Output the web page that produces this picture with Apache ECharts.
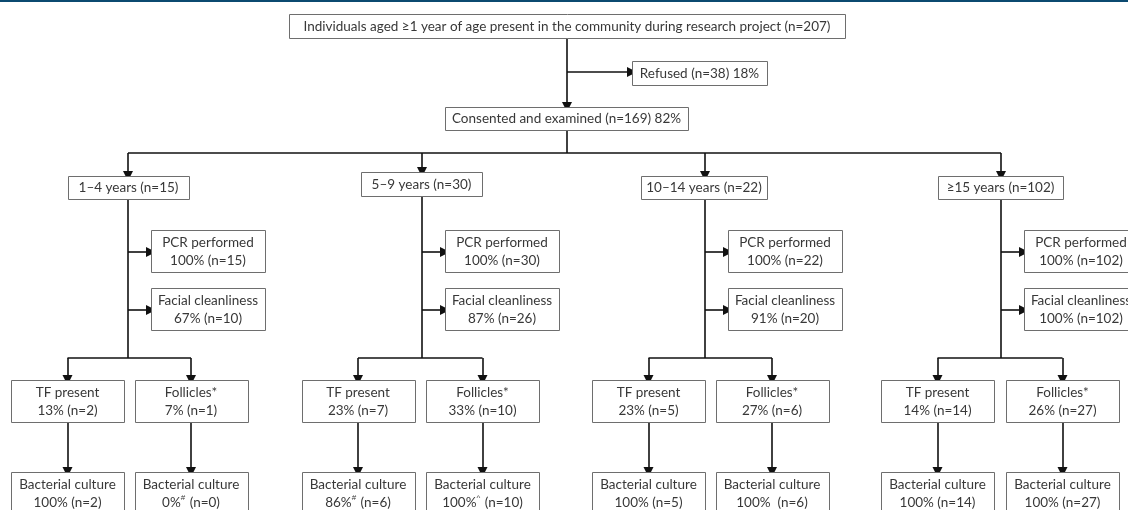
<!DOCTYPE html>
<html>
<head>
<meta charset="utf-8">
<script src="https://cdn.jsdelivr.net/npm/echarts@6/dist/echarts.min.js"></script>
<style>
  html, body { margin: 0; padding: 0; background: #fff; }
  #main { width: 1128px; height: 510px; }
</style>
</head>
<body>
<div id="main"></div>
<script>
// chart data
var totalN = 207
var refusedN = 38, refusedPct = 18
var consentedN = 169, consentedPct = 82
var ageGroups = ['1–4', '5–9', '10–14', '≥15']
var ageN = [15, 30, 22, 102]
var pcrPct = [100, 100, 100, 100]
var pcrN = [15, 30, 22, 102]
var facialPct = [67, 87, 91, 100]
var facialN = [10, 26, 20, 102]
var tfPct = [13, 23, 23, 14]
var tfN = [2, 7, 5, 14]
var follPct = [7, 33, 27, 26]
var follN = [1, 10, 6, 27]
var tfCultPct = [100, 86, 100, 100]
var tfCultN = [2, 6, 5, 14]
var tfCultMark = ['', '#', '', '']
var follCultPct = [0, 100, 100, 100]
var follCultN = [0, 10, 6, 27]
var follCultMark = ['#', '^', '', '']

// layout (pixel space of the hidden axes)
var colX = [128, 422, 705, 1001]
var ageBox = [[68, 176, 189, 199], [361, 172, 482, 196], [641, 176, 767, 199], [938, 176, 1063, 199]]
var tfCx = [67.5, 358, 648.5, 937.5]
var follCx = [191, 482.5, 772, 1062.5]
var leafW = 113
var busY = 153, splitY = 358

var boxes = []   // [x0, y0, x1, y1, textIndex]
var texts = []
function addBox(x0, y0, x1, y1, t) {
  texts.push(t)
  boxes.push([x0, y0, x1, y1, texts.length - 1])
}
var arrows = []
var segs = []

addBox(289, 14, 845, 38, 'Individuals aged ≥1 year of age present in the community during research project (n=' + totalN + ')')
addBox(632, 61, 767, 85, 'Refused (n=' + refusedN + ') ' + refusedPct + '%')
addBox(445, 107, 688, 130, 'Consented and examined (n=' + consentedN + ') ' + consentedPct + '%')
arrows.push([[567, 38], [567, 107]])
arrows.push([[567, 72], [632, 72]])
segs.push([[567, 130], [567, busY]])
segs.push([[colX[0], busY], [colX[3], busY]])

function cult(p, m, n, i) {
  var gap = (i === 2) ? '  ' : ' '
  return 'Bacterial culture\n' + p + '%' + (m ? '{sup|' + m + '}' : '') + gap + '(n=' + n + ')'
}

for (var i = 0; i < 4; i++) {
  var cx = colX[i], ab = ageBox[i]
  addBox(ab[0], ab[1], ab[2], ab[3], ageGroups[i] + ' years (n=' + ageN[i] + ')')
  arrows.push([[cx, busY], [cx, ab[1]]])
  segs.push([[cx, ab[3]], [cx, splitY]])
  addBox(cx + 23, 230, cx + 137, 272, 'PCR performed\n' + pcrPct[i] + '% (n=' + pcrN[i] + ')')
  addBox(cx + 23, 288, cx + 137, 330, 'Facial cleanliness\n' + facialPct[i] + '% (n=' + facialN[i] + ')')
  arrows.push([[cx, 252], [cx + 23, 252]])
  arrows.push([[cx, 310], [cx + 23, 310]])
  segs.push([[tfCx[i], splitY], [follCx[i], splitY]])
  arrows.push([[tfCx[i], splitY], [tfCx[i], 380]])
  arrows.push([[follCx[i], splitY], [follCx[i], 380]])
  addBox(tfCx[i] - leafW / 2, 380, tfCx[i] + leafW / 2, 422, 'TF present\n' + tfPct[i] + '% (n=' + tfN[i] + ')')
  addBox(follCx[i] - leafW / 2, 380, follCx[i] + leafW / 2, 422, 'Follicles*\n' + follPct[i] + '% (n=' + follN[i] + ')')
  arrows.push([[tfCx[i], 422], [tfCx[i], 472]])
  arrows.push([[follCx[i], 422], [follCx[i], 472]])
  addBox(tfCx[i] - leafW / 2, 472, tfCx[i] + leafW / 2, 514, cult(tfCultPct[i], tfCultMark[i], tfCultN[i], -1))
  addBox(follCx[i] - leafW / 2, 472, follCx[i] + leafW / 2, 514, cult(follCultPct[i], follCultMark[i], follCultN[i], i))
}

var chart = echarts.init(document.getElementById('main'))
var font = '"Lato", "Open Sans", sans-serif'

chart.setOption({
  animation: false,
  graphic: [{
    type: 'rect', left: 0, top: 0,
    shape: { width: 1128, height: 2 },
    style: { fill: '#0b4a70' }
  }],
  grid: { left: 0, right: 0, top: 0, bottom: 0 },
  xAxis: { type: 'value', min: 0, max: 1128, show: false },
  yAxis: { type: 'value', min: 0, max: 510, inverse: true, show: false },
  series: [
    {
      type: 'lines',
      coordinateSystem: 'cartesian2d',
      symbol: ['none', 'none'],
      lineStyle: { color: '#111', width: 1.6, opacity: 1 },
      silent: true,
      data: segs.map(function (s) { return { coords: s } })
    },
    {
      type: 'lines',
      coordinateSystem: 'cartesian2d',
      symbol: ['none', 'triangle'],
      symbolSize: [9, 10],
      lineStyle: { color: '#111', width: 1.6, opacity: 1 },
      itemStyle: { color: '#111' },
      silent: true,
      data: arrows.map(function (s) { return { coords: s } })
    },
    {
      type: 'custom',
      coordinateSystem: 'cartesian2d',
      silent: true,
      data: boxes,
      encode: { x: [0, 2], y: [1, 3] },
      renderItem: function (params, api) {
        var p0 = api.coord([api.value(0), api.value(1)])
        var p1 = api.coord([api.value(2), api.value(3)])
        var t = texts[api.value(4)]
        return {
          type: 'group',
          children: [{
            type: 'rect',
            shape: { x: Math.round(p0[0]) + 0.5, y: Math.round(p0[1]) + 0.5, width: Math.round(p1[0] - p0[0]), height: Math.round(p1[1] - p0[1]) },
            style: { fill: '#fff', stroke: '#6e6e6e', lineWidth: 1 }
          }, {
            type: 'text',
            style: {
              text: t,
              x: (p0[0] + p1[0]) / 2,
              y: (p0[1] + p1[1]) / 2 + 0.5,
              align: 'center',
              verticalAlign: 'middle',
              fill: '#383838',
              fontFamily: font,
              fontSize: 13.5,
              lineHeight: 18,
              rich: {
                sup: { fontSize: 8, verticalAlign: 'top', lineHeight: 18, fill: '#383838', padding: [0, 1, 6, 0] }
              }
            }
          }]
        }
      },
      z: 5
    }
  ]
})
</script>
</body>
</html>
